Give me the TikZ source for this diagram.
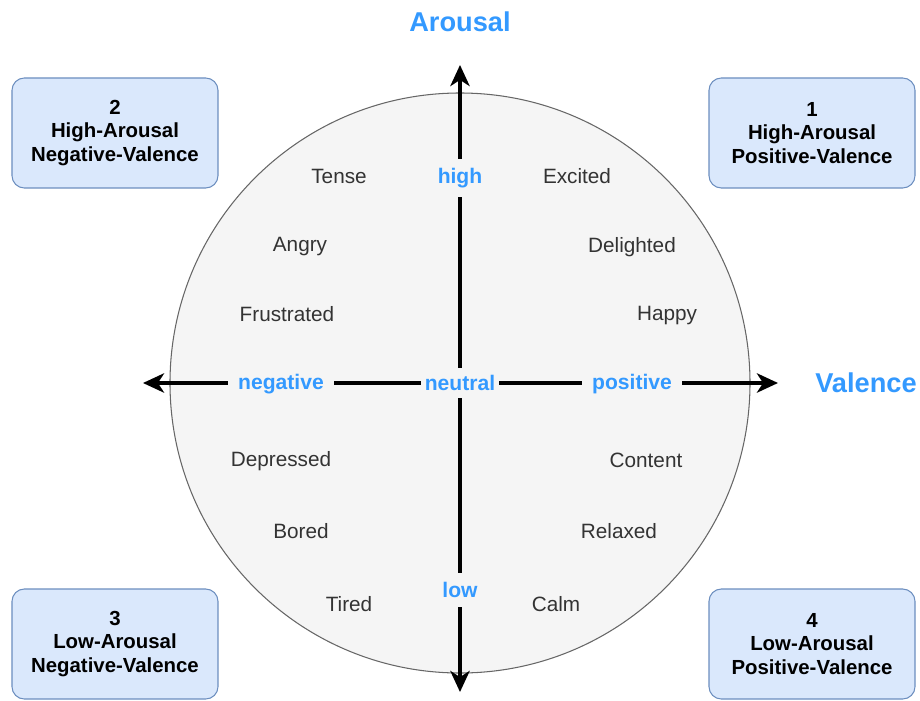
\documentclass[tikz,border=0pt]{standalone}
\usepackage{fontspec}
\setmainfont{Liberation Sans}
\usetikzlibrary{arrows.meta,positioning}

\definecolor{axisblue}{HTML}{3399FF}
\definecolor{boxfill}{HTML}{DAE8FC}
\definecolor{boxline}{HTML}{6C8EBF}
\definecolor{discfill}{HTML}{F5F5F5}
\definecolor{discline}{HTML}{666666}
\definecolor{wordgray}{HTML}{333333}

\begin{document}
\begin{tikzpicture}[>={Stealth[length=12pt, width=11pt, inset=3.5pt]},
    quadrant/.style={draw=boxline, fill=boxfill, rounded corners=7pt, align=center, minimum width=4.12cm, minimum height=2.2cm, font=\fontsize{11.6}{13.2}\selectfont\bfseries, line width=0.6pt},
    emotion/.style={font=\fontsize{11.8}{14}\selectfont, text=wordgray},
    axislabel/.style={fill=discfill, text=axisblue, inner sep=2pt, font=\fontsize{12}{14}\selectfont\bfseries},
    axistitle/.style={text=axisblue, font=\fontsize{15.5}{18}\selectfont\bfseries}]
    \useasboundingbox (-9.2,-6.34) rectangle (9.2,7.66);

    % circumplex disc
    \draw[discline, fill=discfill, line width=0.6pt] (0,0) circle (5.8cm);

    % axes
    \coordinate (arousaltop) at (0,6.36);
    \coordinate (arousalbot) at (0,-6.18);
    \coordinate (valenceleft) at (-6.34,0);
    \coordinate (valenceright) at (6.36,0);
    \draw[<->, line width=2pt] (arousalbot) -- (arousaltop);
    \draw[<->, line width=2pt] (valenceleft) -- (valenceright);

    \node[axislabel, inner ysep=5pt] (high) at (0,4.1) {high};
    \node[axislabel, inner ysep=5pt] (low) at (0,-4.14) {low};
    \node[axislabel, inner xsep=6pt] (negative) at (-3.58,-0.03) {negative};
    \node[axislabel, inner xsep=6pt] (positive) at (3.44,-0.03) {positive};
    \node[axislabel, inner xsep=2pt, inner ysep=4pt] (neutral) at (0,0) {neutral};

    \node[axistitle] (arousal) at (0,7.22) {Arousal};
    \node[axistitle] (valence) at (8.12,0) {Valence};

    % emotion words
    \node[emotion] (tense) at (-2.42,4.14) {Tense};
    \node[emotion] (excited) at (2.34,4.14) {Excited};
    \node[emotion] (angry) at (-3.2,2.72) {Angry};
    \node[emotion] (delighted) at (3.44,2.72) {Delighted};
    \node[emotion] (frustrated) at (-3.46,1.38) {Frustrated};
    \node[emotion] (happy) at (4.14,1.34) {Happy};
    \node[emotion] (depressed) at (-3.58,-1.56) {Depressed};
    \node[emotion] (content) at (3.72,-1.54) {Content};
    \node[emotion] (bored) at (-3.18,-2.96) {Bored};
    \node[emotion] (relaxed) at (3.18,-2.96) {Relaxed};
    \node[emotion] (tired) at (-2.22,-4.42) {Tired};
    \node[emotion] (calm) at (1.92,-4.42) {Calm};

    % quadrant boxes
    \node[quadrant] (q1) at (7.04,5.0) {1\\High-Arousal\\Positive-Valence};
    \node[quadrant] (q2) at (-6.9,5.0) {2\\High-Arousal\\Negative-Valence};
    \node[quadrant] (q3) at (-6.9,-5.22) {3\\Low-Arousal\\Negative-Valence};
    \node[quadrant] (q4) at (7.04,-5.22) {4\\Low-Arousal\\Positive-Valence};
  \end{tikzpicture}
\end{document}
